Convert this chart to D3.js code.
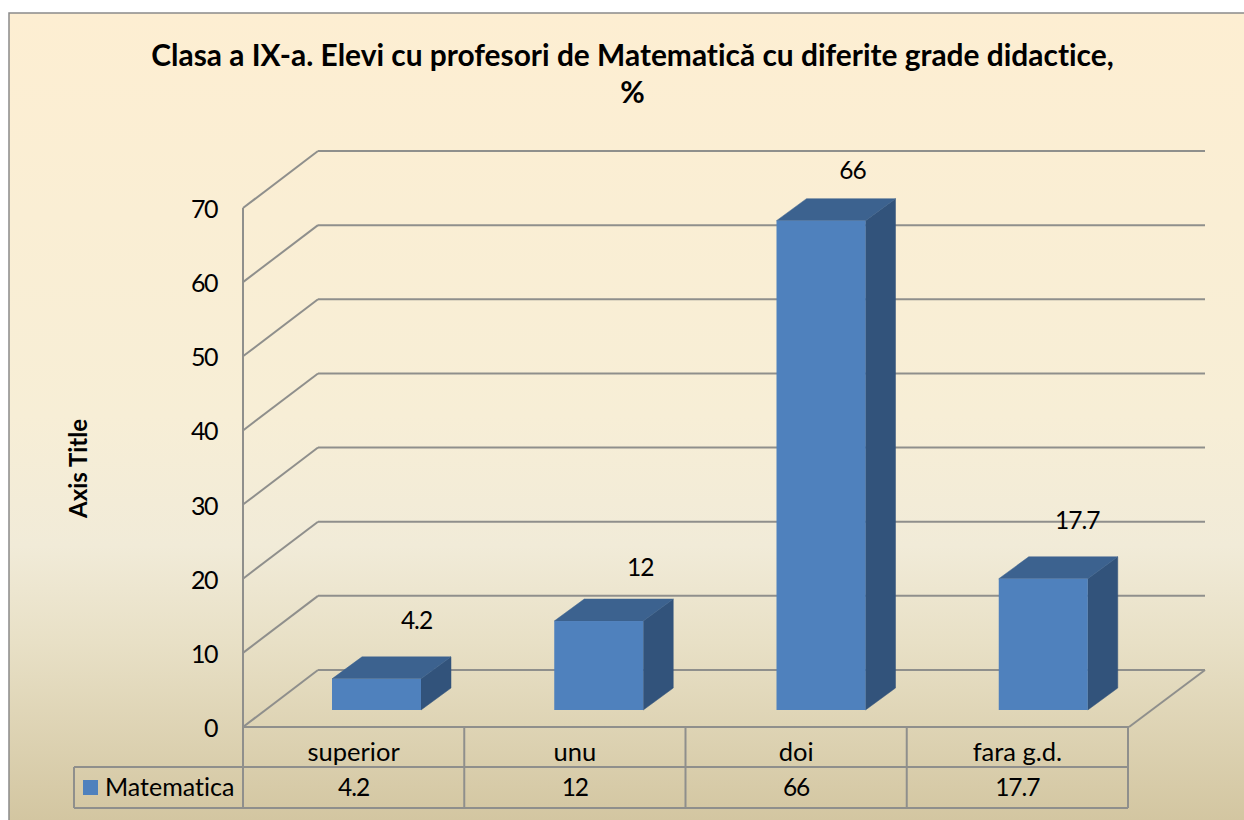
<!DOCTYPE html>
<html><head><meta charset="utf-8">
<script src="https://cdn.jsdelivr.net/npm/d3@7/dist/d3.min.js"></script>
<style>html,body{margin:0;padding:0;background:#fff;overflow:hidden}svg{display:block}text{font-family:Lato,"Open Sans",sans-serif;fill:#000;font-variant-ligatures:none}</style>
</head><body><svg id="c" width="1244" height="820"></svg>
<script>
const titleLines = ["Clasa a IX-a. Elevi cu profesori de Matematică cu diferite grade didactice,", "%"];
const axisTitle = "Axis Title";
const seriesName = "Matematica";
const categories = ["superior", "unu", "doi", "fara g.d."];
const values = [4.2, 12, 66, 17.7];
const valueLabels = ["4.2", "12", "66", "17.7"];
const yTicks = [0, 10, 20, 30, 40, 50, 60, 70];

const svg = d3.select("#c");
const defs = svg.append("defs");
const bg = defs.append("linearGradient").attr("id","bg").attr("gradientUnits","userSpaceOnUse").attr("x1",0).attr("y1",13).attr("x2",0).attr("y2",820);
[[0,"#fdeed2"],[0.5,"#f7eed6"],[0.66,"#f1ebd8"],[0.78,"#e8e0c6"],[1,"#d3c6a1"]].forEach(s=>bg.append("stop").attr("offset",s[0]).attr("stop-color",s[1]));

svg.append("rect").attr("x",9).attr("y",13).attr("width",1300).attr("height",850).attr("fill","url(#bg)").attr("stroke","#8a8a8a").attr("stroke-width",1.5);

const grid="#8f8f8c";
const y = d3.scaleLinear().domain([0,70]).range([727,208]);
const x = d3.scaleBand().domain(categories).range([243,1128]);
const xBar = d3.scaleBand().domain(categories).range([332,1221]);
const dx = 75, dy = -57;
const barDx = 30, barDy = -22, floorDrop = 17;
const barW = 89;

const g = svg.append("g").attr("fill","none").attr("stroke",grid).attr("stroke-width",2);
yTicks.forEach(t=>{
  g.append("line").attr("x1",243+dx).attr("x2",1205).attr("y1",y(t)+dy).attr("y2",y(t)+dy);
  g.append("line").attr("x1",243).attr("x2",243+dx).attr("y1",y(t)).attr("y2",y(t)+dy);
});
g.append("line").attr("x1",243).attr("x2",243).attr("y1",y(70)).attr("y2",808);
g.append("line").attr("x1",243).attr("x2",1129).attr("y1",727).attr("y2",727);
g.append("line").attr("x1",1129).attr("x2",1205).attr("y1",727).attr("y2",670);

const tableCols = categories.map(c=>x(c)).concat([1128]);
tableCols.forEach(cx=>g.append("line").attr("x1",cx).attr("x2",cx).attr("y1",727).attr("y2",808));
g.append("line").attr("x1",74).attr("x2",1128).attr("y1",767).attr("y2",767);
g.append("line").attr("x1",74).attr("x2",1128).attr("y1",808).attr("y2",808);
g.append("line").attr("x1",74).attr("x2",74).attr("y1",767).attr("y2",808);

// small per-label nudges relative to the bar top, as placed in the reference
const labelNudgeX = [40, 41.5, 31.5, 34];
const labelNudgeY = [50, 45, 42, 50];
const vh = v => y(0)-y(v);
const bars = svg.append("g").selectAll("g").data(categories.map((c,i)=>({c,v:values[i],l:valueLabels[i],i}))).join("g");
const bx = d => xBar(d.c);
const by0 = 727-floorDrop;
bars.append("path").attr("fill","#32537b").attr("stroke","#32537b").attr("stroke-width",.5)
 .attr("d",d=>{const X=bx(d)+barW,T=by0-vh(d.v);return `M${X},${T}L${X+barDx},${T+barDy}L${X+barDx},${by0+barDy}L${X},${by0}Z`;});
bars.append("path").attr("fill","#3c628f").attr("stroke","#3c628f").attr("stroke-width",.5)
 .attr("d",d=>{const X=bx(d),T=by0-vh(d.v);return `M${X},${T}L${X+barDx},${T+barDy}L${X+barW+barDx},${T+barDy}L${X+barW},${T}Z`;});
bars.append("rect").attr("fill","#4f81bd").attr("x",bx).attr("width",barW)
 .attr("y",d=>by0-vh(d.v)).attr("height",d=>vh(d.v));
bars.append("text").attr("text-anchor","middle").attr("font-size",24.5).attr("letter-spacing",-1)
 .attr("x",d=>bx(d)+barW/2+labelNudgeX[d.i]).attr("y",d=>by0-vh(d.v)-labelNudgeY[d.i]).text(d=>d.l);

svg.append("g").selectAll("text").data(yTicks).join("text").attr("text-anchor","end").attr("font-size",25).attr("letter-spacing",-1.5)
 .attr("x",217).attr("y",t=>y(t)+10).text(t=>t);

svg.append("g").selectAll("text").data(titleLines).join("text").attr("text-anchor","middle")
 .attr("font-size",29.9).attr("font-weight",700).attr("x",632.5).attr("y",(d,i)=>66+i*37).text(d=>d);
svg.append("text").attr("transform","translate(87,468.5) rotate(-90)").attr("text-anchor","middle")
 .attr("font-size",24).attr("font-weight",700).text(axisTitle);

svg.append("g").selectAll("text").data(categories).join("text").attr("text-anchor","middle").attr("font-size",25.5)
 .attr("x",c=>x(c)+x.bandwidth()/2).attr("y",761).text(c=>c);
svg.append("g").selectAll("text").data(valueLabels).join("text").attr("text-anchor","middle").attr("font-size",24.5).attr("letter-spacing",-1)
 .attr("x",(d,i)=>x(categories[i])+x.bandwidth()/2).attr("y",796).text(d=>d);
svg.append("rect").attr("x",83).attr("y",780).attr("width",15).attr("height",15).attr("fill","#4f81bd");
svg.append("text").attr("x",105).attr("y",796).attr("font-size",25).text(seriesName);
</script></body></html>
